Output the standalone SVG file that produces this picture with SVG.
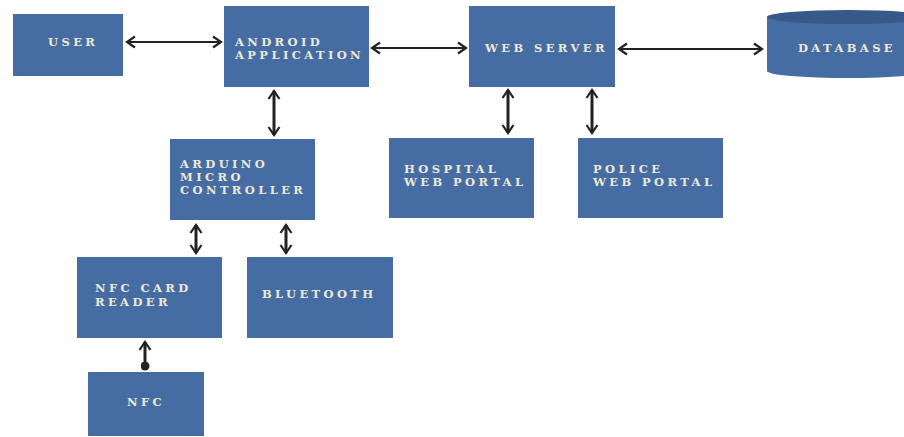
<svg xmlns="http://www.w3.org/2000/svg" width="904" height="437" viewBox="0 0 904 437">
<defs>
<marker id="ah" viewBox="0 0 14 14" refX="11" refY="7" markerWidth="14" markerHeight="14" markerUnits="userSpaceOnUse" orient="auto-start-reverse">
<path d="M3,1.5 L11,7 L3,12.5" fill="none" stroke="#222" stroke-width="2.2"/>
</marker>
<marker id="dot" viewBox="0 0 10 10" refX="5" refY="5" markerWidth="9" markerHeight="9" markerUnits="userSpaceOnUse">
<circle cx="5" cy="5" r="5" fill="#222"/>
</marker>
</defs>
<style>
.box{fill:#466da3}
.t{font-family:"DejaVu Serif",serif;font-weight:bold;font-size:11.5px;fill:#ece8d4;letter-spacing:3.4px}
.c{stroke:#222;fill:none}
.h{stroke-width:2}
.v{stroke-width:3}
</style>
<rect width="904" height="437" fill="#fff"/>
<g id="connectors">
<line class="c h" x1="127" y1="42" x2="221" y2="42" marker-start="url(#ah)" marker-end="url(#ah)"/>
<line class="c h" x1="372" y1="48" x2="466" y2="48" marker-start="url(#ah)" marker-end="url(#ah)"/>
<line class="c h" x1="619" y1="49" x2="762" y2="49" marker-start="url(#ah)" marker-end="url(#ah)"/>
<line class="c v" x1="274" y1="91" x2="274" y2="135" marker-start="url(#ah)" marker-end="url(#ah)"/>
<line class="c v" x1="508" y1="90" x2="508" y2="133" marker-start="url(#ah)" marker-end="url(#ah)"/>
<line class="c v" x1="592" y1="90" x2="592" y2="133" marker-start="url(#ah)" marker-end="url(#ah)"/>
<line class="c v" x1="196" y1="225" x2="196" y2="253" marker-start="url(#ah)" marker-end="url(#ah)"/>
<line class="c v" x1="286" y1="225" x2="286" y2="253" marker-start="url(#ah)" marker-end="url(#ah)"/>
<line class="c v" x1="145" y1="342" x2="145" y2="366" marker-start="url(#ah)" marker-end="url(#dot)"/>
</g>
<g id="user"><rect class="box" x="13" y="14" width="110" height="62"/><text class="t" x="48" y="46">USER</text></g>
<g id="android"><rect class="box" x="224" y="6" width="145" height="81"/><text class="t" x="235" y="46">ANDROID</text><text class="t" x="235" y="59">APPLICATION</text></g>
<g id="webserver"><rect class="box" x="469" y="6" width="146" height="81"/><text class="t" x="485" y="52">WEB SERVER</text></g>
<g id="database"><path class="box" d="M767,17 L767,71 A81,7 0 0 0 929,71 L929,17 Z"/><ellipse cx="848" cy="17" rx="81" ry="7" fill="#36598a"/><text class="t" x="798" y="52">DATABASE</text></g>
<g id="arduino"><rect class="box" x="170" y="139" width="145" height="81"/><text class="t" x="180" y="168">ARDUINO</text><text class="t" x="180" y="181">MICRO</text><text class="t" x="180" y="194">CONTROLLER</text></g>
<g id="hospital"><rect class="box" x="389" y="138" width="145" height="80"/><text class="t" x="404" y="173">HOSPITAL</text><text class="t" x="404" y="186">WEB PORTAL</text></g>
<g id="police"><rect class="box" x="578" y="138" width="145" height="80"/><text class="t" x="593" y="173">POLICE</text><text class="t" x="593" y="186">WEB PORTAL</text></g>
<g id="nfcreader"><rect class="box" x="77" y="257" width="145" height="81"/><text class="t" x="95" y="292">NFC CARD</text><text class="t" x="95" y="306">READER</text></g>
<g id="bluetooth"><rect class="box" x="247" y="257" width="146" height="81"/><text class="t" x="262" y="298">BLUETOOTH</text></g>
<g id="nfc"><rect class="box" x="88" y="372" width="116" height="64"/><text class="t" x="127" y="406">NFC</text></g>
</svg>
